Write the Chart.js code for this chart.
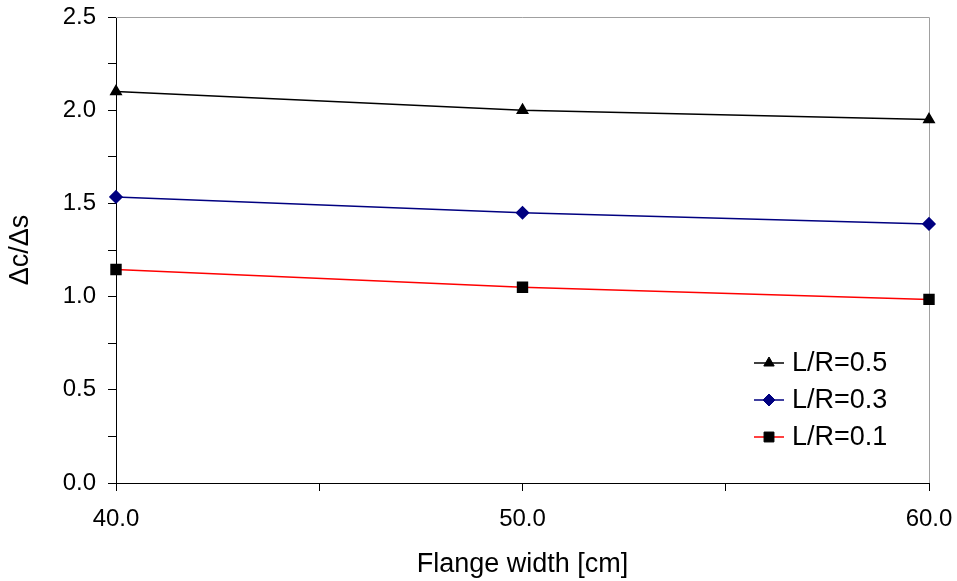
<!DOCTYPE html>
<html>
<head>
<meta charset="utf-8">
<script src="https://cdn.jsdelivr.net/npm/chart.js@4/dist/chart.umd.min.js"></script>
<style>
  html, body { margin: 0; padding: 0; background: #fff; }
  #wrap { width: 957px; height: 581px; }
</style>
</head>
<body>
<div id="wrap"><canvas id="chart" width="957" height="581"></canvas></div>
<script>
const flangeWidths = [40, 50, 60];
const seriesLabels = ['L/R=0.5', 'L/R=0.3', 'L/R=0.1'];
const lr05 = [2.10, 2.00, 1.95];
const lr03 = [1.535, 1.45, 1.39];
const lr01 = [1.145, 1.05, 0.985];

const FONT = '"Liberation Sans", Arial, sans-serif';

function toPoints(values) {
  return flangeWidths.map((x, i) => ({ x, y: values[i] }));
}

// top/right frame of the plot area, light gray
const frame = {
  id: 'frame',
  beforeDatasetsDraw(chart) {
    const { ctx, chartArea: a } = chart;
    ctx.save();
    ctx.strokeStyle = '#a0a0a0';
    ctx.lineWidth = 1;
    ctx.beginPath();
    ctx.moveTo(a.left, a.top + 0.5);
    ctx.lineTo(a.right + 0.5, a.top + 0.5);
    ctx.lineTo(a.right + 0.5, a.bottom);
    ctx.stroke();
    ctx.restore();
  }
};

// legend sits inside the plot, lower right
const innerLegend = {
  id: 'innerLegend',
  afterDatasetsDraw(chart) {
    const c = chart.ctx;
    const x0 = 754, x1 = 784, tx = 792;
    const rows = [363, 400, 437];
    c.save();
    chart.data.datasets.forEach((d, i) => {
      const y = rows[i];
      c.strokeStyle = d.borderColor;
      c.lineWidth = d.borderWidth;
      c.beginPath();
      c.moveTo(x0, y);
      c.lineTo(x1, y);
      c.stroke();
      c.fillStyle = d.pointBackgroundColor;
      c.strokeStyle = d.pointBorderColor;
      c.lineWidth = 1;
      Chart.helpers.drawPoint(c, { pointStyle: d.pointStyle, radius: d.pointRadius, borderWidth: 1 }, (x0 + x1) / 2, y);
      c.fillStyle = '#000';
      c.font = '27px ' + FONT;
      c.textBaseline = 'middle';
      c.textAlign = 'left';
      c.fillText(d.label, tx, y + 1);
    });
    c.restore();
  }
};

const ctx = document.getElementById('chart').getContext('2d');
new Chart(ctx, {
  type: 'line',
  data: {
    datasets: [
      {
        label: seriesLabels[0],
        data: toPoints(lr05),
        borderColor: '#000000',
        pointBackgroundColor: '#000000',
        pointBorderColor: '#000000',
        pointStyle: 'triangle',
        pointRadius: 6,
        borderWidth: 1.5,
        clip: false
      },
      {
        label: seriesLabels[1],
        data: toPoints(lr03),
        borderColor: '#000080',
        pointBackgroundColor: '#000080',
        pointBorderColor: '#000080',
        pointStyle: 'rectRot',
        pointRadius: 6,
        borderWidth: 1.5,
        clip: false
      },
      {
        label: seriesLabels[2],
        data: toPoints(lr01),
        borderColor: '#ff0000',
        pointBackgroundColor: '#000000',
        pointBorderColor: '#000000',
        pointStyle: 'rect',
        pointRadius: 7,
        borderWidth: 1.5,
        clip: false
      }
    ]
  },
  options: {
    responsive: false,
    animation: false,
    layout: { padding: { top: 17, right: 28, left: 0, bottom: 0 } },
    plugins: {
      legend: { display: false },
      tooltip: { enabled: false }
    },
    scales: {
      x: {
        type: 'linear',
        min: 40,
        max: 60,
        afterFit(s) { s.height = 98; s.paddingLeft = 0; s.paddingRight = 0; },
        ticks: {
          stepSize: 5,
          padding: 14,
          color: '#000',
          font: { family: FONT, size: 24 },
          maxRotation: 0,
          autoSkip: false,
          callback: v => (v % 10 === 0 ? v.toFixed(1) : '')
        },
        grid: {
          drawOnChartArea: false,
          drawTicks: true,
          tickLength: 8,
          color: '#000'
        },
        border: { display: true, color: '#000', width: 1 },
        title: {
          display: true,
          text: 'Flange width [cm]',
          color: '#000',
          font: { family: FONT, size: 27 },
          padding: { top: 0, bottom: 0 }
        }
      },
      y: {
        min: 0,
        max: 2.5,
        afterFit(s) { s.width = 116; s.paddingTop = 0; s.paddingBottom = 0; },
        ticks: {
          stepSize: 0.25,
          padding: 12,
          color: '#000',
          font: { family: FONT, size: 24 },
          autoSkip: false,
          callback: v => (Math.abs(v * 2 - Math.round(v * 2)) < 1e-6 ? v.toFixed(1) : '')
        },
        grid: {
          drawOnChartArea: false,
          drawTicks: true,
          tickLength: 8,
          color: '#000'
        },
        border: { display: true, color: '#000', width: 1 },
        title: {
          display: true,
          text: '\u0394c/\u0394s',
          color: '#000',
          font: { family: FONT, size: 27 },
          padding: { top: 4, bottom: 0 }
        }
      }
    }
  },
  plugins: [frame, innerLegend]
});
</script>
</body>
</html>
